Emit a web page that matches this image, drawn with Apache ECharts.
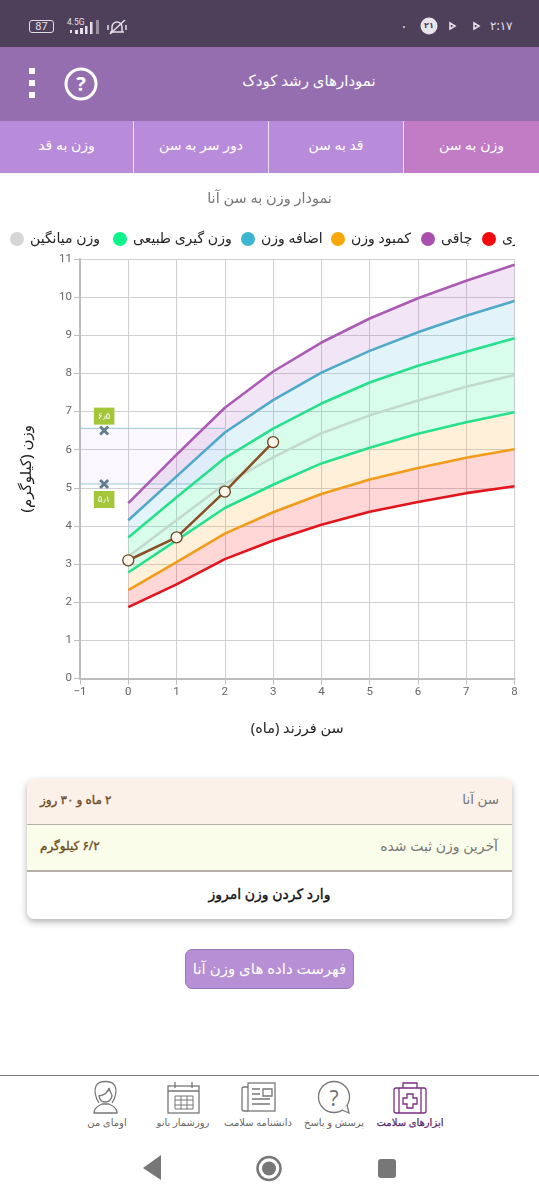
<!DOCTYPE html>
<html lang="fa"><head><meta charset="utf-8">
<script src="https://cdn.jsdelivr.net/npm/echarts@6/dist/echarts.min.js"></script>
<style>
html,body{margin:0;padding:0;background:#fff;overflow:hidden;width:539px;height:1200px;font-family:"Noto Sans","DejaVu Sans",sans-serif}
.a{position:absolute}
.t{position:absolute;white-space:nowrap;direction:rtl}
#status{left:0;top:0;width:539px;height:47px;background:#4e3f5a}
#head{left:0;top:47px;width:539px;height:74px;background:#946eae}
#tabs{left:0;top:121px;width:539px;height:52px;background:#b98bdb;display:flex}
#tabs div{height:52px;line-height:48px;text-align:center;color:#fff;font-size:14px;direction:rtl;box-sizing:border-box}
#chart{left:0;top:173px;width:539px;height:590px}
#clip{left:515px;top:225px;width:24px;height:26px;background:#fff}
#card{left:27px;top:779px;width:485px;height:140px;border-radius:7px;box-shadow:0 3px 7px rgba(0,0,0,.3);overflow:hidden;background:#fff}
#card .r{position:absolute;left:0;width:485px;box-sizing:border-box}
#btn{left:185px;top:949px;width:169px;height:40px;box-sizing:border-box;background:#b78fd5;border:1px solid #9a78b5;border-radius:7px;color:#fff;text-align:center;line-height:36px;font-size:15px;direction:rtl;white-space:nowrap}
#nav{left:0;top:1075px;width:539px;height:1px;background:#777}
.n{position:absolute;top:1115px;width:76px;margin-left:-38px;text-align:center;font-size:10px;color:#666;direction:rtl;white-space:nowrap}
</style></head><body>
<div class="a" id="status"></div>
<div class="t" style="left:29px;top:20px;width:25px;height:13px;box-sizing:border-box;text-align:center;font-size:11px;color:#e5e0e8;font-family:Roboto;direction:ltr;border:1px solid #ddd;border-radius:3px;line-height:11px">87</div>
<div class="t" style="left:67px;top:17px;font-size:8.5px;color:#e5e0e8;font-family:Roboto;direction:ltr">4.5G</div>
<svg class="a" style="left:70px;top:20px" width="64" height="18"><g fill="#e5e0e8"><rect x="0" y="10" width="2" height="3"/><rect x="5" y="10" width="3" height="4"/><rect x="10" y="8" width="3" height="6"/><rect x="15" y="6" width="2.5" height="8"/><rect x="20" y="2" width="2.5" height="12"/><rect x="26" y="0" width="3" height="14" opacity=".5"/></g><g stroke="#e5e0e8" fill="none" stroke-width="1.5"><path d="M40 12h14M42 12v-5a5 5 0 0 1 10 0v5M38 5v5M56 5v5"/><path d="M40 14L55 0"/></g></svg>
<div class="t" style="left:402px;top:17px;font-size:14px;color:#ddd;direction:ltr">·</div>
<svg class="a" style="left:420px;top:17px" width="100" height="18"><circle cx="9" cy="9" r="8.5" fill="#e8e4ea"/><path d="M30 6l5 3-5 3z M54 6l5 3-5 3z" fill="none" stroke="#e5e0e8" stroke-width="1.6"/></svg>
<div class="t" style="left:423px;top:19px;font-size:8px;color:#4e3f5a;font-weight:bold;width:12px;text-align:center">۲۱</div>
<div class="t" style="left:490px;top:17px;font-size:12px;color:#e5e0e8;direction:ltr">۲:۱۷</div>

<div class="a" id="head"></div>
<svg class="a" style="left:20px;top:62px" width="85" height="50"><rect x="9" y="6" width="6" height="6" fill="#fff"/><rect x="9" y="18" width="6" height="6" fill="#fff"/><rect x="9" y="30" width="6" height="6" fill="#fff"/><circle cx="61" cy="22" r="15" fill="none" stroke="#fff" stroke-width="3"/></svg>
<div class="t" style="left:74px;top:72px;width:14px;text-align:center;font-size:20px;font-weight:bold;color:#fff;line-height:24px;direction:ltr">?</div>
<div class="t" style="left:235px;top:70px;width:148px;text-align:center;font-size:15px;color:#fff">نمودارهای رشد کودک</div>

<div class="a" id="tabs">
<div style="width:134px;border-right:1px solid #ece0f3">وزن به قد</div>
<div style="width:135px;border-right:1px solid #ece0f3">دور سر به سن</div>
<div style="width:135px;border-right:1px solid #ece0f3">قد به سن</div>
<div style="width:135px;background:#c27cc6">وزن به سن</div>
</div>

<div class="a" id="chart"></div>
<div class="a" id="clip"></div>

<div class="a" id="card">
<div class="r" style="top:0;height:46px;background:#fcf1e8;border-bottom:1px solid #b5b0a5"></div>
<div class="r" style="top:46px;height:47px;background:#fafde9;border-bottom:2px solid #b5b0a5"></div>
<div class="t" style="right:13px;top:11px;font-size:13.5px;color:#777">سن آنا</div>
<div class="t" style="left:13px;top:12px;font-size:12px;color:#6b4a1e;-webkit-text-stroke:.35px #6b4a1e">۲ ماه و ۳۰ روز</div>
<div class="t" style="right:14px;top:57px;font-size:14px;color:#777">آخرین وزن ثبت شده</div>
<div class="t" style="left:13px;top:58px;font-size:12px;color:#6b4a1e;-webkit-text-stroke:.35px #6b4a1e">۶/۲ کیلوگرم</div>
<div class="t" style="left:0;width:485px;text-align:center;top:105px;font-size:14px;color:#111;-webkit-text-stroke:.35px #111">وارد کردن وزن امروز</div>
</div>
<div class="a" id="btn">فهرست داده های وزن آنا</div>

<div class="a" id="nav"></div>
<svg class="a" style="left:85px;top:1079px" width="360" height="38" fill="none" stroke="#777" stroke-width="1.3">
<g stroke="#7a2e80"><rect x="309" y="9" width="32" height="25" rx="2"/><path d="M318 9V4h14v5M314 9v25M336 9v25"/><path d="M322 15h6v4h4v6h-4v4h-6v-4h-4v-6h4z"/></g>
<circle cx="249" cy="18" r="15.500"/><path d="M257 31l7 3-2-8" fill="#fff"/>
<rect x="163" y="4" width="27" height="28"/><path d="M163 8h-4a2 2 0 0 0-2 2v20a2 2 0 0 0 2 2h4M167 10h8M167 15h8M167 20h18M167 25h18M178 10h9v7h-9z"/>
<rect x="83" y="7" width="31" height="27"/><path d="M83 12h31M90 3v6M107 3v6"/><path d="M90 17h18v13H90zM96 17v13M102 17v13M90 21h18M90 26h18" stroke-width="1"/>
<path d="M14 24c-4-6-5-13-3-17 3-6 16-6 19 0 2 4 1 11-3 17M14 17c5-1 9-3 10-8 1 4 3 6 3 8-2 8-12 8-13 0zM9 34c0-5 4-7 8-9h7c4 2 8 4 8 9z"/>
</svg>
<div class="t" style="left:328px;top:1084px;width:12px;text-align:center;font-size:21px;color:#777;direction:ltr">?</div>
<div class="n" style="left:410px;color:#5a2a6a;-webkit-text-stroke:.25px #5a2a6a">ابزارهای سلامت</div>
<div class="n" style="left:334px">پرسش و پاسخ</div>
<div class="n" style="left:258px">دانشنامه سلامت</div>
<div class="n" style="left:183px">روزشمار بانو</div>
<div class="n" style="left:107px">اومای من</div>
<svg class="a" style="left:130px;top:1150px" width="280" height="36"><path d="M13 19L31 6v25z" fill="#777" transform="translate(0,-1)"/><circle cx="139" cy="18.500" r="11.500" fill="none" stroke="#777" stroke-width="2.500"/><circle cx="139" cy="18.500" r="7" fill="#777"/><rect x="248" y="9" width="18" height="19" rx="3" fill="#777"/></svg>

<script>
var months = [0, 1, 2, 3, 4, 5, 6, 7, 8];
var thinLine = [1.87, 2.47, 3.13, 3.62, 4.03, 4.37, 4.63, 4.86, 5.04];
var underLine = [2.32, 3.05, 3.80, 4.36, 4.84, 5.22, 5.52, 5.79, 6.01];
var normalLow = [2.78, 3.62, 4.47, 5.08, 5.64, 6.05, 6.42, 6.72, 6.98];
var averageLine = [3.20, 4.15, 5.10, 5.80, 6.43, 6.90, 7.29, 7.65, 7.96];
var normalHigh = [3.70, 4.75, 5.78, 6.55, 7.21, 7.76, 8.20, 8.57, 8.92];
var overLine = [4.15, 5.30, 6.45, 7.30, 8.02, 8.59, 9.08, 9.51, 9.90];
var obeseLine = [4.60, 5.87, 7.10, 8.05, 8.81, 9.44, 9.97, 10.43, 10.85];
var childMonths = [0, 1, 2, 3];
var childWeights = [3.1, 3.7, 4.9, 6.2];
var rangeX = -0.5;
var rangeWeights = [6.5, 5.1];
var rangeLabels = ['۶٫۵', '۵٫۱'];
var rangeEdges = [6.56, 5.1];
var rangeEndMonth = 2;
var legendNames = ['وزن میانگین', 'وزن گیری طبیعی', 'اضافه وزن', 'کمبود وزن', 'چاقی', 'لاغری'];
var legendLefts = [5, 108, 236, 326, 416, 477];
var xTickLabelMinus = '−';

function pts(arr){ return months.map(function(m,i){ return [m, arr[i]]; }); }
function band(lo, hi, color){
  return {type:'custom', silent:true, z:1, clip:true, data:[[0,0]], legendHoverLink:false,
    renderItem:function(p, api){
      var points = [];
      months.forEach(function(m,i){ points.push(api.coord([m, hi[i]])); });
      for (var i = months.length-1; i>=0; i--) points.push(api.coord([months[i], lo[i]]));
      return {type:'polygon', shape:{points:points}, style:{fill:color}};
    }};
}
function curve(name, arr, lineColor, dotColor){
  return {name:name, type:'line', data:pts(arr), symbol:'none', z:3, silent:true,
    lineStyle:{color:lineColor, width:2.6}, itemStyle:{color:dotColor}};
}
var chart = echarts.init(document.getElementById('chart'), null, {renderer:'canvas'});
var FONT = '"Noto Sans","DejaVu Sans",sans-serif';
chart.setOption({
  animation:false,
  backgroundColor:'#fff',
  textStyle:{fontFamily:FONT},
  title:{text:'نمودار وزن به سن آنا', left:'center', top:13, textStyle:{fontSize:14.5, fontWeight:'normal', color:'#777', fontFamily:FONT}},
  legend:legendNames.map(function(n,i){
    return {data:[{name:n, icon:'circle'}], left:legendLefts[i], top:54, itemWidth:14, itemHeight:14, itemGap:0, selectedMode:false,
      textStyle:{fontSize:14, color:'#222', fontFamily:FONT, padding:[0,0,0,1]}};
  }),
  grid:{left:80, right:24.5, top:86, bottom:84.5, containLabel:false},
  xAxis:{type:'value', min:-1, max:8, interval:1,
    name:'سن فرزند (ماه)', nameLocation:'middle', nameGap:43, nameTextStyle:{fontSize:14.5, color:'#222', fontFamily:FONT},
    axisLine:{onZero:false, show:true, lineStyle:{color:'#bdbdbd', width:2}},
    axisTick:{show:true, length:6, lineStyle:{color:'#bdbdbd'}},
    axisLabel:{fontFamily:'Roboto', fontSize:11.5, color:'#666', margin:8, formatter:function(v){return v<0 ? xTickLabelMinus+Math.abs(v) : ''+v;}},
    splitLine:{show:true, lineStyle:{color:'#cfcfd4', width:1}}},
  yAxis:{type:'value', min:0, max:11, interval:1,
    name:'وزن (کیلوگرم)', nameLocation:'middle', nameGap:46, nameRotate:90, nameTextStyle:{fontSize:15, color:'#222', fontFamily:FONT},
    axisLine:{onZero:false, show:true, lineStyle:{color:'#bdbdbd', width:2}},
    axisTick:{show:true, length:6, lineStyle:{color:'#bdbdbd'}},
    axisLabel:{fontFamily:'Roboto', fontSize:11.5, color:'#666', margin:8},
    splitLine:{show:true, lineStyle:{color:'#cfcfd4', width:1}}},
  series:[
    band(thinLine, underLine, 'rgba(255,20,20,0.17)'),
    band(underLine, normalLow, 'rgba(255,170,20,0.16)'),
    band(normalLow, normalHigh, 'rgba(20,240,130,0.16)'),
    band(normalHigh, overLine, 'rgba(60,180,220,0.15)'),
    band(overLine, obeseLine, 'rgba(170,80,190,0.15)'),
    {type:'line', silent:true, symbol:'none', z:2, data:[[-1, rangeEdges[0]],[rangeEndMonth, rangeEdges[0]]],
      lineStyle:{color:'#9cc4d4', width:1},
      markArea:{silent:true, itemStyle:{color:'rgba(190,120,240,0.06)'}, data:[[{coord:[-1, rangeEdges[0]]},{coord:[rangeEndMonth, rangeEdges[1]]}]]}},
    {type:'line', silent:true, symbol:'none', z:2, data:[[-1, rangeEdges[1]],[rangeEndMonth, rangeEdges[1]]], lineStyle:{color:'#9cc4d4', width:1}},
    curve(legendNames[5], thinLine, '#e2141c', '#f20a0e'),
    curve(legendNames[3], underLine, '#f19c1b', '#f9a80b'),
    curve(legendNames[1], normalLow, '#26e08c', '#0df58a'),
    curve(legendNames[0], averageLine, '#c4d9cd', '#d6d6d6'),
    curve(legendNames[1], normalHigh, '#26e08c', '#0df58a'),
    curve(legendNames[2], overLine, '#4fa9c9', '#3eb5cf'),
    curve(legendNames[4], obeseLine, '#ab5bb5', '#ab4fae'),
    {type:'line', silent:true, z:5, data:childMonths.map(function(m,i){return [m, childWeights[i]];}),
      symbol:'circle', symbolSize:11, showSymbol:true,
      lineStyle:{color:'#8b4f25', width:2.6}, itemStyle:{color:'#fdf6ea', borderColor:'#6d4420', borderWidth:1.3, opacity:1}},
    {type:'scatter', silent:true, z:6, symbol:'path://M2 0L5 3L8 0L10 2L7 5L10 8L8 10L5 7L2 10L0 8L3 5L0 2Z', symbolSize:10,
      itemStyle:{color:'#607d8b', opacity:1},
      data:rangeWeights.map(function(w,i){
        return {value:[rangeX, w], label:{show:true, position:i===0?'top':'bottom', distance:i===0?1:2, formatter:rangeLabels[i],
          backgroundColor:'#a4c639', color:'#fff', fontSize:9, padding:[3,4,3,4], lineHeight:11, opacity:1, fontFamily:FONT}};
      })}
  ]
});
</script>
</body></html>
